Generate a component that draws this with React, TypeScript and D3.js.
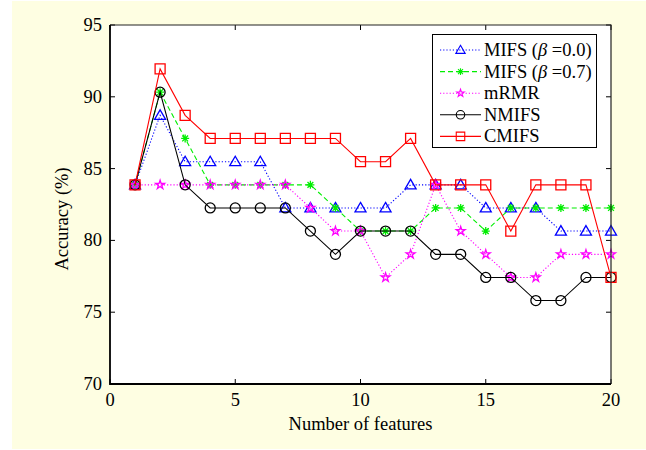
import * as d3 from 'd3';
import React, { useRef, useEffect } from 'react';

// number of features on x axis
const features = d3.range(1, 21);

// accuracy (%) per method
const mifs00 = [83.87, 88.71, 85.48, 85.48, 85.48, 85.48, 82.26, 82.26, 82.26, 82.26, 82.26, 83.87, 83.87, 83.87, 82.26, 82.26, 82.26, 80.65, 80.65, 80.65];
const mifs07 = [83.87, 90.32, 87.10, 83.87, 83.87, 83.87, 83.87, 83.87, 82.26, 80.65, 80.65, 80.65, 82.26, 82.26, 80.65, 82.26, 82.26, 82.26, 82.26, 82.26];
const mrmr = [83.87, 83.87, 83.87, 83.87, 83.87, 83.87, 83.87, 82.26, 80.65, 80.65, 77.42, 79.03, 83.87, 80.65, 79.03, 77.42, 77.42, 79.03, 79.03, 79.03];
const nmifs = [83.87, 90.32, 83.87, 82.26, 82.26, 82.26, 82.26, 80.65, 79.03, 80.65, 80.65, 80.65, 79.03, 79.03, 77.42, 77.42, 75.81, 75.81, 77.42, 77.42];
const cmifs = [83.87, 91.94, 88.71, 87.10, 87.10, 87.10, 87.10, 87.10, 87.10, 85.48, 85.48, 87.10, 83.87, 83.87, 83.87, 80.65, 83.87, 83.87, 83.87, 77.42];

const xTicks = [0, 5, 10, 15, 20];
const yTicks = [70, 75, 80, 85, 90, 95];

const W = 646, H = 450;
const L = 110, R = 611, T = 25, B = 384;
const FONT = '"Liberation Serif", "Times New Roman", serif';
const FS = 18.5;

const markerPath = (m) => {
    if (m === 'tri') return 'M0,-5.5L5.5,4L-5.5,4Z';
    if (m === 'sq') return 'M-5,-5H5V5H-5Z';
    if (m === 'circ') return d3.symbol(d3.symbolCircle, Math.PI * 25)();
    if (m === 'star') return d3.symbol(d3.symbolStar, 24)();
    // asterisk
    const a = 4, d = 2.9;
    return `M${-a},0H${a}M0,${-a}V${a}M${-d},${-d}L${d},${d}M${-d},${d}L${d},${-d}`;
};

const series = [
    { name: 'mifs00', label: ['MIFS (', 'β', ' =0.0)'], data: mifs00, color: '#0000ff', dash: '1.2,2', marker: 'tri' },
    { name: 'mifs07', label: ['MIFS (', 'β', ' =0.7)'], data: mifs07, color: '#00ee00', dash: '5,3', marker: 'ast' },
    { name: 'mrmr', label: ['mRMR'], data: mrmr, color: '#ff00ff', dash: '1.2,2', marker: 'star' },
    { name: 'nmifs', label: ['NMIFS'], data: nmifs, color: '#000000', dash: null, marker: 'circ' },
    { name: 'cmifs', label: ['CMIFS'], data: cmifs, color: '#ff0000', dash: null, marker: 'sq' },
];

function Chart() {
    const ref = useRef(null);

    useEffect(() => {
        const svg = d3.select(ref.current);
        svg.selectAll('*').remove();

        const x = d3.scaleLinear().domain([0, 20]).range([L, R]);
        const y = d3.scaleLinear().domain([70, 95]).range([B, T]);

        // page background
        svg.append('rect').attr('x', 12).attr('y', 1).attr('width', W - 12).attr('height', H - 2)
            .attr('fill', '#fefee2');
        svg.append('rect').attr('x', L).attr('y', T).attr('width', R - L).attr('height', B - T)
            .attr('fill', '#fff');

        // ticks inside the box, on all four sides
        const tk = svg.append('g').attr('stroke', '#000').attr('stroke-width', 1);
        xTicks.forEach(v => {
            tk.append('line').attr('x1', x(v)).attr('x2', x(v)).attr('y1', B).attr('y2', B - 5);
            tk.append('line').attr('x1', x(v)).attr('x2', x(v)).attr('y1', T).attr('y2', T + 5);
        });
        yTicks.forEach(v => {
            tk.append('line').attr('x1', L).attr('x2', L + 5).attr('y1', y(v)).attr('y2', y(v));
            tk.append('line').attr('x1', R).attr('x2', R - 5).attr('y1', y(v)).attr('y2', y(v));
        });

        svg.append('g').selectAll('text').data(xTicks).enter().append('text')
            .attr('x', d => x(d)).attr('y', 406).attr('text-anchor', 'middle')
            .attr('font-family', FONT).attr('font-size', FS).text(d => d);
        svg.append('g').selectAll('text').data(yTicks).enter().append('text')
            .attr('x', 102).attr('y', d => y(d) + 6).attr('text-anchor', 'end')
            .attr('font-family', FONT).attr('font-size', FS).text(d => d);

        svg.append('text').attr('x', (L + R) / 2).attr('y', 430).attr('text-anchor', 'middle')
            .attr('font-family', FONT).attr('font-size', FS).text('Number of features');
        svg.append('text').attr('transform', `translate(68,${219}) rotate(-90)`).attr('text-anchor', 'middle')
            .attr('font-family', FONT).attr('font-size', FS).text('Accuracy (%)');

        // series
        const line = d3.line().x((d, i) => x(features[i])).y(d => y(d));
        series.forEach(s => {
            const g = svg.append('g');
            g.append('path').attr('d', line(s.data)).attr('fill', 'none')
                .attr('stroke', s.color).attr('stroke-width', 1.1)
                .attr('stroke-dasharray', s.dash);
            g.selectAll('path.m').data(s.data).enter().append('path').attr('class', 'm')
                .attr('d', markerPath(s.marker))
                .attr('transform', (d, i) => `translate(${x(features[i])},${y(d)})`)
                .attr('fill', 'none').attr('stroke', s.color).attr('stroke-width', 1.3);
        });

        // box
        svg.append('path').attr('d', `M${L},${T}H${R}V${B}`).attr('fill', 'none')
            .attr('stroke', '#222').attr('stroke-width', 1.2);
        svg.append('path').attr('d', `M${L},${T}V${B}H${R}`).attr('fill', 'none')
            .attr('stroke', '#000').attr('stroke-width', 1.8);

        // legend
        const lg = svg.append('g');
        lg.append('rect').attr('x', 432.5).attr('y', 34.5).attr('width', 164).attr('height', 113)
            .attr('fill', '#fff').attr('stroke', '#000').attr('stroke-width', 1);
        series.forEach((s, i) => {
            const yy = 50 + i * 21.6;
            lg.append('line').attr('x1', 440).attr('x2', 481).attr('y1', yy).attr('y2', yy)
                .attr('stroke', s.color).attr('stroke-width', 1.1).attr('stroke-dasharray', s.dash);
            lg.append('path').attr('d', markerPath(s.marker)).attr('transform', `translate(460.5,${yy}) scale(0.85)`)
                .attr('fill', 'none').attr('stroke', s.color).attr('stroke-width', 1.3);
            const t = lg.append('text').attr('x', 484).attr('y', yy + 6)
                .attr('font-family', FONT).attr('font-size', FS).attr('fill', '#000');
            s.label.forEach(part => {
                t.append('tspan').attr('font-style', part === 'β' ? 'italic' : null).text(part);
            });
        });
    }, []);

    return (
        <svg ref={ref} width={W} height={H} style={{ position: 'absolute', left: 0, top: 0, background: '#fff' }}></svg>
    );
}

export default function App() {
    return <Chart />;
}
